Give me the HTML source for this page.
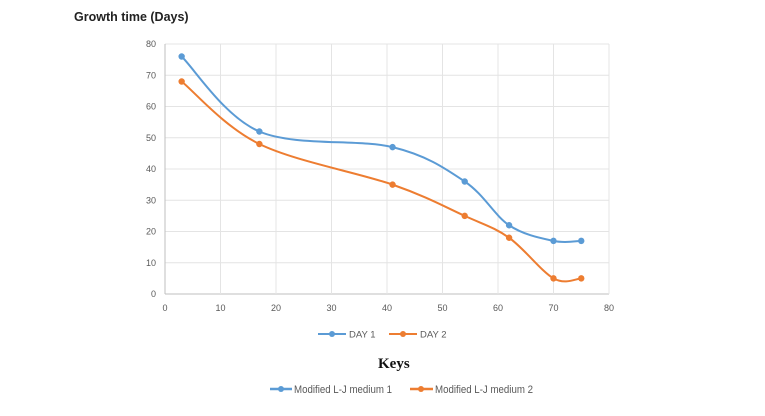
<!DOCTYPE html>
<html><head><meta charset="utf-8"><style>
body{margin:0;background:#fff;width:765px;height:411px;overflow:hidden;font-family:"Liberation Sans",sans-serif}
</style></head><body>
<svg width="765" height="411" id="c">
<text x="74" y="21" font-size="12.5" font-weight="bold" fill="#222">Growth time (Days)</text>
<g id="grid"></g><g id="series"></g>
<g font-size="9.5" fill="#595959">
<line x1="318" y1="334" x2="346" y2="334" stroke="#5b9bd5" stroke-width="2"/><circle cx="332" cy="334" r="3" fill="#5b9bd5"/>
<text x="349" y="337.5">DAY 1</text>
<line x1="389" y1="334" x2="417" y2="334" stroke="#ed7d31" stroke-width="2"/><circle cx="403" cy="334" r="3" fill="#ed7d31"/>
<text x="420" y="337.5">DAY 2</text>
</g>
<text x="378" y="368" font-family="Liberation Serif" font-weight="bold" font-size="15" fill="#111">Keys</text>
<g font-size="11" fill="#595959">
<line x1="270" y1="389" x2="292" y2="389" stroke="#5b9bd5" stroke-width="2.5"/><circle cx="281" cy="389" r="3" fill="#5b9bd5"/>
<text x="294" y="393" textLength="98" lengthAdjust="spacingAndGlyphs">Modified L-J medium 1</text>
<line x1="410" y1="389" x2="433" y2="389" stroke="#ed7d31" stroke-width="2.5"/><circle cx="421" cy="389" r="3" fill="#ed7d31"/>
<text x="435" y="393" textLength="98" lengthAdjust="spacingAndGlyphs">Modified L-J medium 2</text>
</g>
</svg>
<script>
const xVals=[3,17,41,54,62,70,75];
const day1=[76,52,47,36,22,17,17];
const day2=[68,48,35,25,18,5,5];
const xTicks=[0,10,20,30,40,50,60,70,80];
const yTicks=[0,10,20,30,40,50,60,70,80];
const X=v=>165+v*(609-165)/80, Y=v=>294-v*(294-44)/80;
const ns="http://www.w3.org/2000/svg";
const g=document.getElementById('grid'), s=document.getElementById('series');
function mk(t,a,p){const e=document.createElementNS(ns,t);for(const k in a)e.setAttribute(k,a[k]);p.appendChild(e);return e;}
yTicks.forEach(v=>{
 const l=mk('line',{x1:X(0),x2:X(80),y1:Y(v),y2:Y(v),stroke:v===0?'#bfbfbf':'#e4e4e4','stroke-width':1},g);
 
 
 const t=mk('text',{x:X(0)-9,y:Y(v)+3,'text-anchor':'end','font-size':9,fill:'#595959'},g);t.textContent=v;
 
 
});
xTicks.forEach(v=>{
 const l=mk('line',{x1:X(v),x2:X(v),y1:Y(0),y2:Y(80),stroke:v===0?'#bfbfbf':'#e4e4e4','stroke-width':1},g);
 
 
 const t=mk('text',{x:X(v),y:311,'text-anchor':'middle','font-size':9,fill:'#595959'},g);t.textContent=v;
 
 
});
function smooth(pts){let d=`M${pts[0][0]},${pts[0][1]}`;
 for(let i=0;i<pts.length-1;i++){const p0=pts[i-1]||pts[i],p1=pts[i],p2=pts[i+1],p3=pts[i+2]||p2;const k=1/6;
 d+=` C${p1[0]+(p2[0]-p0[0])*k},${p1[1]+(p2[1]-p0[1])*k} ${p2[0]-(p3[0]-p1[0])*k},${p2[1]-(p3[1]-p1[1])*k} ${p2[0]},${p2[1]}`;}
 return d;}
[[day2,'#ed7d31','day-2'],[day1,'#5b9bd5','day-1']].forEach(([vals,col,nm])=>{
 const pts=xVals.map((x,i)=>[X(x),Y(vals[i])]);
 const p=mk('path',{d:smooth(pts),fill:'none',stroke:col,'stroke-width':2},s);
 
 
 pts.forEach(q=>{const c=mk('circle',{cx:q[0],cy:q[1],r:3.2,fill:col},s);
 
 });
});
</script>
</body></html>
